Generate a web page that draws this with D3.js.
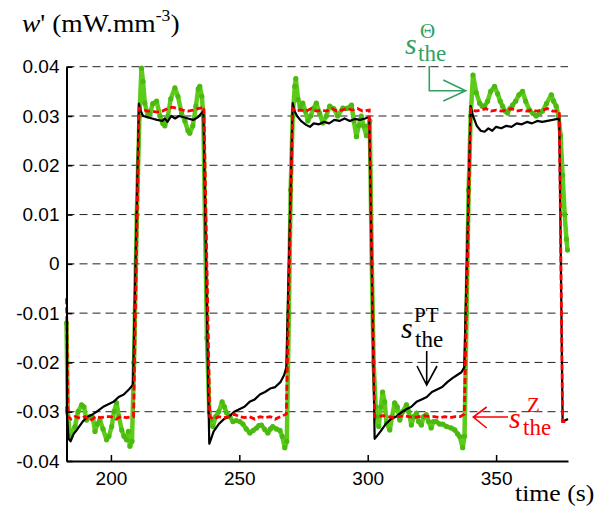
<!DOCTYPE html>
<html><head><meta charset="utf-8">
<script src="https://cdn.jsdelivr.net/npm/d3@7"></script>
<style>body{margin:0;background:#fff}svg{display:block}</style>
</head><body>
<svg id="c" width="606" height="508"></svg>
<script>
// ---------- data ----------
const xTicks = [200, 250, 300, 350];
const xTickLabels = ["200", "250", "300", "350"];
const yTicks = [0.04, 0.03, 0.02, 0.01, 0, -0.01, -0.02, -0.03, -0.04];
const yTickLabels = ["0.04", "0.03", "0.02", "0.01", "0", "-0.01", "-0.02", "-0.03", "-0.04"];

// s_the^Theta (green)
const greenT = [182.7,183.2,184.0,186.0,187.2,188.6,189.5,190.5,191.8,193.0,193.8,194.7,195.7,196.9,198.3,199.2,200.3,201.2,202.2,203.1,204.2,205.1,206.1,206.8,207.4,208.2,
  209.0,210.1,211.1,211.9,212.5,213.2,214.4,215.2,216.3,217.8,219.1,220.2,221.0,222.2,223.3,224.9,226.1,227.5,228.8,230.0,230.7,231.9,233.1,234.0,234.6,235.4,236.0,
  236.6,237.4,238.3,238.8,239.7,240.8,242.0,243.3,244.2,245.0,246.3,247.5,248.8,250.2,251.4,252.7,254.1,255.4,256.7,257.6,258.6,259.9,261.1,262.1,263.0,264.4,265.8,266.7,267.7,268.5,
  269.3,270.0,270.8,271.6,272.0,272.9,273.7,274.7,275.7,276.7,277.8,278.8,280.0,281.3,282.5,283.9,285.2,286.8,288.3,290.3,291.8,293.7,294.6,295.6,296.5,297.5,298.4,299.5,300.2,300.8,
  301.6,302.3,303.1,303.4,304.3,305.1,305.8,306.6,307.3,308.6,309.5,310.5,311.5,312.5,313.6,315.1,316.0,317.0,317.9,319.0,319.8,320.9,321.8,322.8,323.7,324.7,325.6,326.7,328.0,329.2,330.7,332.6,333.9,335.0,335.8,337.0,337.7,
  338.5,339.3,340.1,341.0,342.3,343.6,344.6,345.5,346.7,347.9,349.4,350.6,351.6,352.5,353.5,354.5,355.4,356.4,357.6,358.9,360.3,361.5,363.0,364.4,365.6,366.9,368.1,369.6,371.5,372.4,373.4,374.3,375.1,375.9,376.7,377.4,377.8];
const greenV = [-0.012,-0.030,-0.035,-0.033,-0.030,-0.0286,-0.029,-0.0317,-0.031,-0.0312,-0.034,-0.0325,-0.0317,-0.0335,-0.0357,-0.035,-0.033,-0.030,-0.0282,-0.031,-0.0337,-0.035,-0.0357,-0.034,-0.037,-0.036,
  -0.02,0.01,0.030,0.0397,0.037,0.0326,0.030,0.0305,0.0325,0.033,0.030,0.0285,0.028,0.030,0.0335,0.0357,0.034,0.0306,0.029,0.027,0.0265,0.028,0.032,0.0355,0.036,0.034,0.030,
  0.01,-0.015,-0.030,-0.0317,-0.033,-0.031,-0.030,-0.028,-0.029,-0.0302,-0.031,-0.032,-0.0318,-0.032,-0.0325,-0.0335,-0.0343,-0.0338,-0.0333,-0.0328,-0.0327,-0.0336,-0.0343,-0.0335,-0.033,-0.0335,-0.0338,-0.035,-0.0373,-0.036,
  -0.01,0.015,0.030,0.036,0.0376,0.0333,0.0318,0.0326,0.031,0.029,0.030,0.0315,0.0326,0.0305,0.0286,0.030,0.032,0.0315,0.030,0.0316,0.0315,0.0322,0.029,0.0258,0.028,0.030,0.028,0.026,0.028,0.029,
  0.0,-0.02,-0.029,-0.031,-0.033,-0.029,-0.026,-0.028,-0.0323,-0.0337,-0.031,-0.0282,-0.029,-0.0317,-0.030,-0.0286,-0.030,-0.0327,-0.031,-0.0303,-0.032,-0.0327,-0.031,-0.0306,-0.032,-0.0333,-0.032,-0.032,-0.0325,-0.0325,-0.033,-0.0333,-0.0337,-0.0345,-0.035,-0.0373,-0.035,
  -0.01,0.015,0.030,0.0383,0.0347,0.0326,0.032,0.032,0.033,0.035,0.036,0.0345,0.033,0.032,0.031,0.0306,0.0315,0.0322,0.033,0.0343,0.035,0.033,0.0312,0.0305,0.030,0.0305,0.031,0.0325,0.0343,0.033,0.032,0.030,0.026,0.018,0.010,0.005,0.0028];

// s_the^PT (black)
const blackT = [182.7,183.5,184.3,185.5,187,189,191,193,195,197,199,201,203,205,207,208.6,
  210.9,211.5,212.5,214,216,218,220,221,222,223.5,225,226.5,228,230,232,234,236,
  238.3,239,240,242,244,246,248,250,252,254,256,258,260,262,264,266,267.5,268.3,
  270.8,271.5,272.5,274,276,277.5,279,281,283,285,287,289,291,293,295,297,299,300.6,
  302.7,303.5,305,307,309,311,313,315,317,319,321,323,325,327,329,331,333,335,336.5,337.6,
  340.1,341,342.5,344,345.5,347,348.5,350,352,354,356,358,360,362,364,366,368,370,372,374.6,
  375.9,378];
const blackV = [-0.029,-0.0355,-0.036,-0.0345,-0.0335,-0.032,-0.031,-0.0305,-0.0298,-0.029,-0.0285,-0.028,-0.027,-0.0265,-0.0255,-0.0245,
  0.0325,0.0312,0.030,0.0298,0.0295,0.0292,0.029,0.0295,0.0288,0.030,0.0295,0.030,0.0298,0.0295,0.0292,0.0298,0.031,
  -0.0365,-0.0355,-0.034,-0.0325,-0.0315,-0.031,-0.030,-0.0295,-0.029,-0.028,-0.0275,-0.0265,-0.026,-0.0253,-0.025,-0.024,-0.0225,-0.021,
  0.0326,0.031,0.030,0.029,0.0282,0.0278,0.0285,0.0283,0.0288,0.0285,0.0292,0.029,0.0295,0.029,0.0294,0.0292,0.0295,0.0298,
  -0.0355,-0.035,-0.034,-0.0325,-0.0315,-0.031,-0.0302,-0.0295,-0.029,-0.028,-0.0275,-0.027,-0.026,-0.0255,-0.025,-0.024,-0.0232,-0.0225,-0.022,-0.021,
  0.032,0.030,0.028,0.027,0.0268,0.0275,0.027,0.0278,0.0275,0.028,0.0278,0.0285,0.0283,0.0288,0.0285,0.029,0.0288,0.029,0.0292,0.0295,
  -0.032,-0.0315];

// s_the^Z (red)
const redT = [182.7,183.3,184.5,186,188,190,192,194,196,198,200,202,204,206,208.8,
  211.0,212,214,216,218,220,222,224,226,228,230,232,234,236.2,
  238.5,240,242,244,246,248,250,252,254,256,258,260,262,264,266,268.3,
  270.8,272,274,276,278,280,282,284,286,288,290,292,294,296,298,300.6,
  302.7,304,306,308,310,312,314,316,318,320,322,324,326,328,330,332,334,336,337.6,
  340.1,342,344,346,348,350,352,354,356,358,360,362,364,366,368,370,372,374.6,
  375.9,378];
const redV = [-0.007,-0.031,-0.0315,-0.031,-0.0313,-0.031,-0.0318,-0.031,-0.0312,-0.031,-0.031,-0.0315,-0.031,-0.0312,-0.031,
  0.0316,0.0315,0.031,0.031,0.0308,0.031,0.0315,0.0318,0.0315,0.0312,0.031,0.0312,0.0315,0.0318,
  -0.031,-0.0315,-0.031,-0.0312,-0.031,-0.0305,-0.031,-0.0312,-0.031,-0.0315,-0.031,-0.0312,-0.031,-0.0315,-0.031,-0.0305,
  0.0315,0.031,0.0312,0.031,0.0315,0.031,0.0312,0.031,0.0315,0.031,0.0312,0.0315,0.0312,0.0315,0.031,0.0312,
  -0.031,-0.031,-0.0308,-0.031,-0.0312,-0.031,-0.0308,-0.031,-0.0312,-0.031,-0.0308,-0.031,-0.031,-0.0312,-0.031,-0.0312,-0.031,-0.031,-0.0305,
  0.0315,0.031,0.0312,0.0315,0.031,0.0312,0.031,0.0312,0.0315,0.031,0.0312,0.031,0.0312,0.031,0.0312,0.0315,0.031,0.031,
  -0.032,-0.032];

// ---------- chart ----------
const svg = d3.select("#c");
const L = 66.5, R = 568, T = 66.7, B = 461;
const x = d3.scaleLinear().domain([182.7, 378]).range([L, R]);
const y = d3.scaleLinear().domain([-0.04, 0.04]).range([B, T]);
const SERIF = '"Liberation Serif", "Times New Roman", serif';
const SANS = '"Liberation Sans", Arial, sans-serif';

// grid
svg.append("g").selectAll("line").data(yTicks.filter(v => v > -0.04)).join("line")
  .attr("x1", L).attr("x2", R).attr("y1", d => y(d)).attr("y2", d => y(d))
  .attr("stroke", "#222").attr("stroke-width", 1).attr("stroke-dasharray", "8,5");

// series
const mk = (T_, V_) => T_.map((t, i) => [t, V_[i]]);
const line = d3.line().x(d => x(d[0])).y(d => y(d[1]));
const green = mk(greenT, greenV), black = mk(blackT, blackV), red = mk(redT, redV);

svg.append("path").datum(green).attr("d", line).attr("fill", "none")
  .attr("stroke", "#5ccc18").attr("stroke-width", 4.5).attr("stroke-linejoin", "round");
svg.append("g").selectAll("circle").data(green).join("circle")
  .attr("cx", d => x(d[0])).attr("cy", d => y(d[1])).attr("r", 2.6).attr("fill", "#4cb812");
svg.append("path").datum(black).attr("d", line).attr("fill", "none")
  .attr("stroke", "#000").attr("stroke-width", 2.2).attr("stroke-linejoin", "round");
svg.append("path").datum(red).attr("d", line).attr("fill", "none")
  .attr("stroke", "#ff0000").attr("stroke-width", 2.8).attr("stroke-dasharray", "6,3");

// axes
const yAxis = d3.axisLeft(y).tickValues(yTicks).tickSizeInner(-6).tickSizeOuter(0).tickPadding(7)
  .tickFormat((d, i) => yTickLabels[i]);
const gy = svg.append("g").attr("transform", `translate(${L},0)`).call(yAxis);
const xAxis = d3.axisBottom(x).tickValues(xTicks).tickSizeInner(-6).tickSizeOuter(0).tickPadding(11)
  .tickFormat((d, i) => xTickLabels[i]);
const gx = svg.append("g").attr("transform", `translate(0,${B})`).call(xAxis);
[gx, gy].forEach(g => {
  g.select(".domain").attr("stroke", "#000").attr("stroke-width", 2);
  g.selectAll(".tick line").attr("stroke", "#000").attr("stroke-width", 1.5);
  g.selectAll(".tick text").style("font-family", SANS).style("font-size", "19px").attr("fill", "#000");
});

// y axis title (slightly widened like the reference)
const yt = svg.append("text").attr("transform", "translate(22,32) scale(1.1,1)")
  .style("font-family", SERIF).style("font-size", "25px").attr("fill", "#000");
yt.append("tspan").style("font-style", "italic").text("w");
yt.append("tspan").text("' (mW.mm");
yt.append("tspan").style("font-size", "16px").attr("dy", -11).text("-3");
yt.append("tspan").attr("dy", 11).text(")");

// x axis title
svg.append("text").attr("transform", "translate(515,501) scale(1.12,1)")
  .style("font-family", SERIF).style("font-size", "23px").attr("fill", "#000").text("time (s)");

// annotations
function label(ys, sup, color, sx, supx, supy, subx, suby) {
  const g = svg.append("g").attr("fill", color).style("font-family", SERIF);
  g.append("text").attr("x", sx).attr("y", ys).style("font-size", "30px").style("font-style", "italic").text("s");
  g.append("text").attr("x", supx).attr("y", supy).style("font-size", "21px").text(sup);
  g.append("text").attr("x", subx).attr("y", suby).style("font-size", "23px").text("the");
}
const teal = "#33a066";
label(54, "\u0398", teal, 405, 420, 38, 418, 61);
label(338, "PT", "#000", 401, 414, 322, 415, 347);
label(428, "Z", "#ff0000", 509, 527, 412, 523, 435);

// arrows
const ar = svg.append("g").attr("fill", "none").attr("stroke-width", 1.6);
ar.append("path").attr("stroke", teal).attr("d", "M429.3,66 V90.7 H465.7 M443.3,80 L465.7,90.7 L443.3,101");
ar.append("path").attr("stroke", "#000").attr("d", "M426.7,351 V385 M417,366 L426.7,385 L437,366");
ar.append("path").attr("stroke", "#ff0000").attr("d", "M508,417 H473.3 M486.7,407 L473.3,417 L486.7,428");
</script>
</body></html>
